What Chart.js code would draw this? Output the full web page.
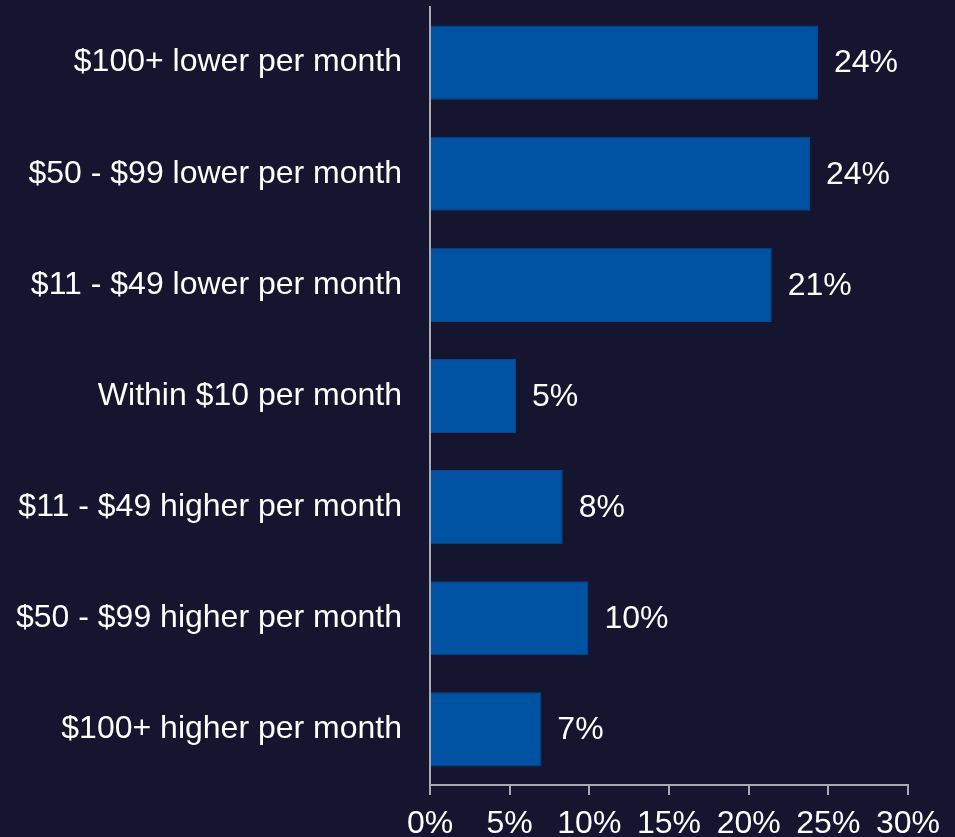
<!DOCTYPE html>
<html>
<head>
<meta charset="utf-8">
<script src="https://cdn.jsdelivr.net/npm/chart.js@4"></script>
<style>
  html, body { margin: 0; padding: 0; background: #151530; overflow: hidden; }
  #wrap { width: 955px; height: 837px; }
</style>
</head>
<body>
<div id="wrap"><canvas id="myChart" width="955" height="837"></canvas></div>
<script>
// ---------------------------------------------------------------- data section
var categories = [
    '$100+ lower per month',
    '$50 - $99 lower per month',
    '$11 - $49 lower per month',
    'Within $10 per month',
    '$11 - $49 higher per month',
    '$50 - $99 higher per month',
    '$100+ higher per month'
];
var share_values = [24.35, 23.85, 21.45, 5.4, 8.33, 9.94, 6.99];
var x_ticks = [0, 5, 10, 15, 20, 25, 30];

var font_name = "'Liberation Sans', Arial, sans-serif";
var axis_color = '#a9a9b3';

// value labels at the end of each bar
const barLabels = {
    id: 'barLabels',
    afterDatasetsDraw(chart) {
        const c = chart.ctx;
        const meta = chart.getDatasetMeta(0);
        c.save();
        c.fillStyle = '#ffffff';
        c.font = '32px ' + font_name;
        c.textAlign = 'left';
        c.textBaseline = 'middle';
        meta.data.forEach(function (bar, i) {
            c.fillText(Math.round(share_values[i]) + '%', bar.x + 16, bar.y + 1);
        });
        c.restore();
    }
};

const ctx = document.getElementById('myChart').getContext('2d');
const myChart = new Chart(ctx, {
    type: 'bar',
    data: {
        labels: categories,
        datasets: [{
            label: 'Share',
            data: share_values,
            backgroundColor: '#0053a3',
            borderColor: '#0a4889',
            borderWidth: 1,
            categoryPercentage: 1,
            barPercentage: 0.667
        }]
    },
    options: {
        indexAxis: 'y',
        responsive: false,
        animation: false,
        layout: { padding: { top: 7, right: 47, left: 0, bottom: 0 } },
        plugins: {
            legend: { display: false },
            tooltip: { enabled: false }
        },
        scales: {
            x: {
                min: 0,
                max: 30,
                afterBuildTicks: function (scale) {
                    scale.ticks = x_ticks.map(function (v) { return { value: v }; });
                },
                afterFit: function (scale) {
                    scale.height = 52;
                    scale.paddingLeft = 0;
                    scale.paddingRight = 0;
                },
                ticks: {
                    color: '#ffffff',
                    font: { size: 32, family: font_name },
                    padding: 10,
                    maxRotation: 0,
                    autoSkip: false,
                    callback: function (v) { return v + '%'; }
                },
                grid: {
                    drawOnChartArea: false,
                    drawTicks: true,
                    tickLength: 10,
                    color: axis_color,
                    lineWidth: 2
                },
                border: { display: true, color: axis_color, width: 2 }
            },
            y: {
                afterFit: function (scale) {
                    scale.width = 430;
                    scale.paddingTop = 0;
                    scale.paddingBottom = 0;
                },
                ticks: {
                    color: '#ffffff',
                    font: { size: 32, family: font_name },
                    padding: 28,
                    autoSkip: false
                },
                grid: { display: false, drawTicks: false },
                border: { display: true, color: axis_color, width: 2 }
            }
        }
    },
    plugins: [barLabels]
});
</script>
</body>
</html>
